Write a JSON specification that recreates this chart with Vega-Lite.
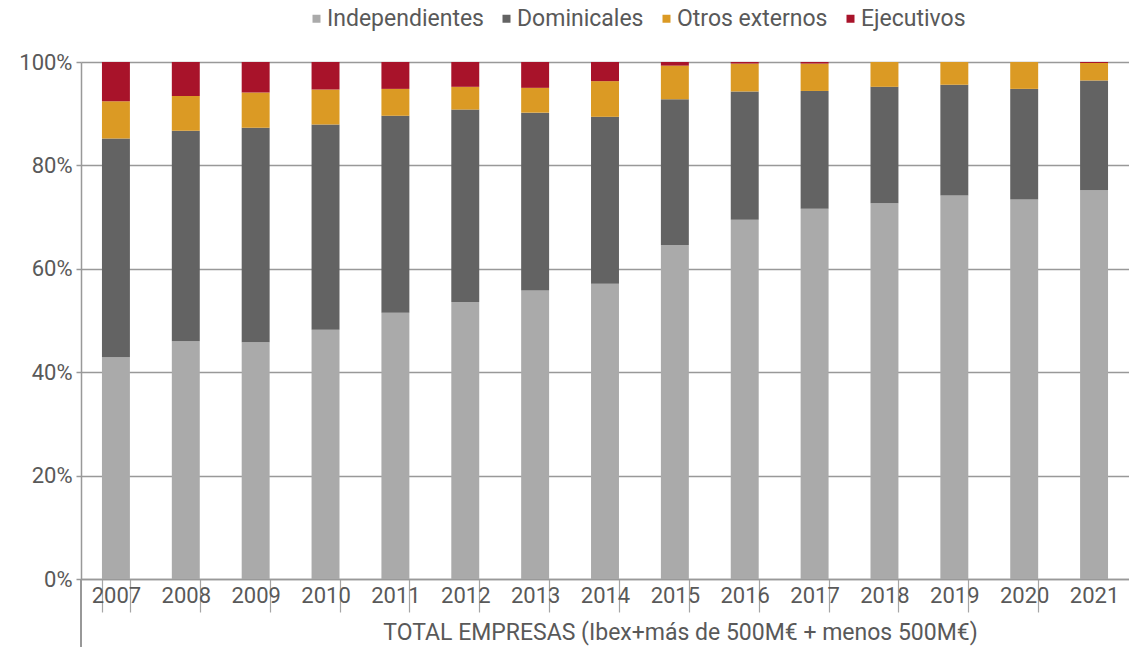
{
  "$schema": "https://vega.github.io/schema/vega-lite/v6.json",
  "width": 1048,
  "height": 517,
  "autosize": {"type": "none"},
  "padding": {"left": 81, "top": 62, "right": 0, "bottom": 68},
  "background": "white",
  "config": {
    "view": {"stroke": null},
    "font": "Roboto",
    "axis": {"labelFont": "Roboto", "titleFont": "Roboto", "labelColor": "#595959", "titleColor": "#595959"},
    "legend": {"labelFont": "Roboto", "labelColor": "#595959"}
  },
  "data": {"values": [
    {"anio": "2007", "tipo": "Independientes", "orden": 1, "valor": 42.9},
    {"anio": "2007", "tipo": "Dominicales", "orden": 2, "valor": 42.3},
    {"anio": "2007", "tipo": "Otros externos", "orden": 3, "valor": 7.2},
    {"anio": "2007", "tipo": "Ejecutivos", "orden": 4, "valor": 7.6},
    {"anio": "2008", "tipo": "Independientes", "orden": 1, "valor": 46.0},
    {"anio": "2008", "tipo": "Dominicales", "orden": 2, "valor": 40.7},
    {"anio": "2008", "tipo": "Otros externos", "orden": 3, "valor": 6.7},
    {"anio": "2008", "tipo": "Ejecutivos", "orden": 4, "valor": 6.6},
    {"anio": "2009", "tipo": "Independientes", "orden": 1, "valor": 45.8},
    {"anio": "2009", "tipo": "Dominicales", "orden": 2, "valor": 41.5},
    {"anio": "2009", "tipo": "Otros externos", "orden": 3, "valor": 6.8},
    {"anio": "2009", "tipo": "Ejecutivos", "orden": 4, "valor": 5.9},
    {"anio": "2010", "tipo": "Independientes", "orden": 1, "valor": 48.2},
    {"anio": "2010", "tipo": "Dominicales", "orden": 2, "valor": 39.7},
    {"anio": "2010", "tipo": "Otros externos", "orden": 3, "valor": 6.8},
    {"anio": "2010", "tipo": "Ejecutivos", "orden": 4, "valor": 5.3},
    {"anio": "2011", "tipo": "Independientes", "orden": 1, "valor": 51.5},
    {"anio": "2011", "tipo": "Dominicales", "orden": 2, "valor": 38.1},
    {"anio": "2011", "tipo": "Otros externos", "orden": 3, "valor": 5.2},
    {"anio": "2011", "tipo": "Ejecutivos", "orden": 4, "valor": 5.2},
    {"anio": "2012", "tipo": "Independientes", "orden": 1, "valor": 53.6},
    {"anio": "2012", "tipo": "Dominicales", "orden": 2, "valor": 37.2},
    {"anio": "2012", "tipo": "Otros externos", "orden": 3, "valor": 4.4},
    {"anio": "2012", "tipo": "Ejecutivos", "orden": 4, "valor": 4.8},
    {"anio": "2013", "tipo": "Independientes", "orden": 1, "valor": 55.8},
    {"anio": "2013", "tipo": "Dominicales", "orden": 2, "valor": 34.4},
    {"anio": "2013", "tipo": "Otros externos", "orden": 3, "valor": 4.8},
    {"anio": "2013", "tipo": "Ejecutivos", "orden": 4, "valor": 5.0},
    {"anio": "2014", "tipo": "Independientes", "orden": 1, "valor": 57.1},
    {"anio": "2014", "tipo": "Dominicales", "orden": 2, "valor": 32.3},
    {"anio": "2014", "tipo": "Otros externos", "orden": 3, "valor": 6.9},
    {"anio": "2014", "tipo": "Ejecutivos", "orden": 4, "valor": 3.7},
    {"anio": "2015", "tipo": "Independientes", "orden": 1, "valor": 64.6},
    {"anio": "2015", "tipo": "Dominicales", "orden": 2, "valor": 28.2},
    {"anio": "2015", "tipo": "Otros externos", "orden": 3, "valor": 6.5},
    {"anio": "2015", "tipo": "Ejecutivos", "orden": 4, "valor": 0.7},
    {"anio": "2016", "tipo": "Independientes", "orden": 1, "valor": 69.5},
    {"anio": "2016", "tipo": "Dominicales", "orden": 2, "valor": 24.8},
    {"anio": "2016", "tipo": "Otros externos", "orden": 3, "valor": 5.4},
    {"anio": "2016", "tipo": "Ejecutivos", "orden": 4, "valor": 0.3},
    {"anio": "2017", "tipo": "Independientes", "orden": 1, "valor": 71.6},
    {"anio": "2017", "tipo": "Dominicales", "orden": 2, "valor": 22.8},
    {"anio": "2017", "tipo": "Otros externos", "orden": 3, "valor": 5.3},
    {"anio": "2017", "tipo": "Ejecutivos", "orden": 4, "valor": 0.3},
    {"anio": "2018", "tipo": "Independientes", "orden": 1, "valor": 72.7},
    {"anio": "2018", "tipo": "Dominicales", "orden": 2, "valor": 22.5},
    {"anio": "2018", "tipo": "Otros externos", "orden": 3, "valor": 4.8},
    {"anio": "2018", "tipo": "Ejecutivos", "orden": 4, "valor": 0.0},
    {"anio": "2019", "tipo": "Independientes", "orden": 1, "valor": 74.2},
    {"anio": "2019", "tipo": "Dominicales", "orden": 2, "valor": 21.4},
    {"anio": "2019", "tipo": "Otros externos", "orden": 3, "valor": 4.4},
    {"anio": "2019", "tipo": "Ejecutivos", "orden": 4, "valor": 0.0},
    {"anio": "2020", "tipo": "Independientes", "orden": 1, "valor": 73.4},
    {"anio": "2020", "tipo": "Dominicales", "orden": 2, "valor": 21.4},
    {"anio": "2020", "tipo": "Otros externos", "orden": 3, "valor": 5.2},
    {"anio": "2020", "tipo": "Ejecutivos", "orden": 4, "valor": 0.0},
    {"anio": "2021", "tipo": "Independientes", "orden": 1, "valor": 75.2},
    {"anio": "2021", "tipo": "Dominicales", "orden": 2, "valor": 21.2},
    {"anio": "2021", "tipo": "Otros externos", "orden": 3, "valor": 3.4},
    {"anio": "2021", "tipo": "Ejecutivos", "orden": 4, "valor": 0.2}
  ]},
  "layer": [
    {
      "mark": {"type": "bar"},
      "encoding": {
        "x": {
          "field": "anio", "type": "nominal",
          "scale": {"paddingInner": 0.6, "paddingOuter": 0.3},
          "axis": {
            "title": "TOTAL EMPRESAS (Ibex+más de 500M€ + menos 500M€)",
            "labelAngle": 0, "labelFontSize": 22, "labelPadding": -27,
            "tickBand": "extent", "tickSize": 33, "tickColor": "#a6a6a6", "tickWidth": 1.2,
            "tickOpacity": {"condition": {"test": "datum.value === '2021'", "value": 0}, "value": 1},
            "domainColor": "#999999", "domainWidth": 1.5,
            "titleFontSize": 23, "titleFontWeight": "normal",
            "titleAnchor": "start", "titleAlign": "center", "titleX": 599, "titleY": 60, "titleBaseline": "alphabetic"
          }
        },
        "y": {
          "field": "valor", "type": "quantitative", "stack": "normalize",
          "scale": {"domain": [0, 1]},
          "axis": {
            "title": null, "values": [0, 0.2, 0.4, 0.6, 0.8, 1], "format": ".0%",
            "labelFontSize": 22, "labelPadding": 4, "tickSize": 5, "tickColor": "#999999", "tickWidth": 1.5,
            "gridColor": "#999999", "gridWidth": 1.5, "domainColor": "#999999", "domainWidth": 1.5
          }
        },
        "color": {
          "field": "tipo", "type": "nominal",
          "scale": {
            "domain": ["Independientes", "Dominicales", "Otros externos", "Ejecutivos"],
            "range": ["#aaaaaa", "#636363", "#db9a24", "#a8132a"]
          },
          "legend": {
            "title": null, "orient": "none", "direction": "horizontal",
            "legendX": 224, "legendY": -55,
            "symbolType": "square", "symbolSize": 64, "symbolStrokeWidth": 0,
            "labelFontSize": 23, "labelOffset": -1, "columnPadding": 11
          }
        },
        "order": {"field": "orden", "type": "quantitative", "sort": "ascending"}
      }
    },
    {
      "mark": {"type": "rule", "color": "#999999", "strokeWidth": 1.5, "clip": false},
      "encoding": {
        "x": {"datum": "2007", "bandPosition": -0.75},
        "y": {"datum": 0},
        "y2": {"datum": -0.13}
      }
    }
  ]
}
